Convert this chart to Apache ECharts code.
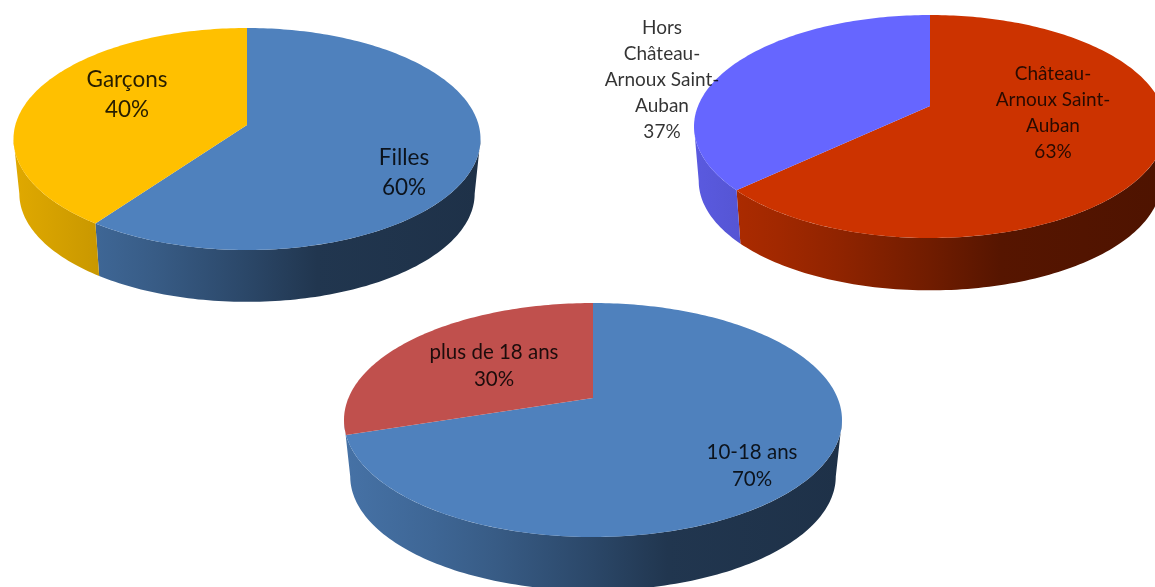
<!DOCTYPE html>
<html><head><meta charset="utf-8">
<style>html,body{margin:0;padding:0;background:#fff;overflow:hidden}#c{width:1155px;height:587px;filter:blur(0.5px)}</style>
<script src="https://cdn.jsdelivr.net/npm/echarts@6/dist/echarts.min.js"></script>
</head><body><div id="c"></div>
<script>
// Data
const genderLabels = ['Filles', 'Garçons'];
const genderValues = [60, 40];
const communeLabels = ['Château-\nArnoux Saint-\nAuban', 'Hors\nChâteau-\nArnoux Saint-\nAuban'];
const communeValues = [63, 37];
const ageLabels = ['10-18 ans', 'plus de 18 ans'];
const ageValues = [70, 30];

// Styling and layout
const shade = [[0, .88], [.18, .79], [.3, .71], [.5, .55], [.65, .42], [1, .38]];
const pies = [
  { labels: genderLabels, values: genderValues, colors: ['#4f81bd', '#ffc000'],
    cx: 247, apex: 125, top: 28, bottom: 250, half: 233.5, s: .975, depth: 55,
    font: 22.5, lh: 30, textColor: 'rgba(0,0,0,.85)', textPos: [[404, 173], [127, 95]] },
  { labels: communeLabels, values: communeValues, colors: ['#cc3300', '#6666ff'],
    cx: 930, apex: 106, top: 15, bottom: 238, half: 236, s: .98, depth: 55,
    font: 19, lh: 26, textColor: 'rgba(0,0,0,.8)', textPos: [[1053, 113], [662, 80]] },
  { labels: ageLabels, values: ageValues, colors: ['#4f81bd', '#c0504d'],
    cx: 593, apex: 398, top: 303, bottom: 537, half: 249, s: .975, depth: 57,
    font: 20.5, lh: 27, textColor: 'rgba(0,0,0,.85)', textPos: [[752, 466], [494, 366]] }
];
const minWallSpan = 0.15; // radians; shorter wall pieces merge into the neighbouring slice

function hex(c) { return [1, 3, 5].map(i => parseInt(c.substr(i, 2), 16)); }
function factorColor(c, f) { return 'rgb(' + hex(c).map(v => Math.round(v * f)).join(',') + ')'; }

function projector(p) {
  const up = p.apex - p.top, down = p.bottom - p.apex;
  const b = -(down - up) / (down + up);
  const a = up * (1 - b);
  const R = p.half * Math.sqrt(1 - b * b);
  const pt = (t, scale, dy) => {
    const X = Math.sin(t), Y = -Math.cos(t), w = 1 + b * Y;
    return [p.cx + scale * R * X / w, p.apex + scale * a * Y / w + dy];
  };
  return { pt, tR: Math.acos(b), tL: 2 * Math.PI - Math.acos(b) };
}

function arc(f, t0, t1, scale, dy) {
  const n = Math.max(2, Math.ceil(Math.abs(t1 - t0) / 0.02));
  const out = [];
  for (let i = 0; i <= n; i++) out.push(f(t0 + (t1 - t0) * i / n, scale, dy));
  return out;
}

function renderer(p) {
  const proj = projector(p);
  const total = p.values.reduce((x, y) => x + y, 0);
  const tAt = k => p.values.slice(0, k).reduce((x, y) => x + y, 0) / total * 2 * Math.PI;
  const span = k => Math.min(tAt(k + 1), proj.tL) - Math.max(tAt(k), proj.tR);
  return function (params, api) {
    const i = params.dataIndex;
    const t0 = tAt(i), t1 = t0 + api.value(0) / total * 2 * Math.PI;
    const color = p.colors[i];
    const children = [];
    const a0 = Math.max(t0, proj.tR);
    let a1 = Math.min(t1, proj.tL);
    const nextIsSliver = i + 1 < p.values.length && span(i + 1) > 0 && span(i + 1) < minWallSpan;
    if (nextIsSliver) a1 = proj.tL;
    if (a1 - a0 >= minWallSpan) {
      const pts = arc(proj.pt, a0, a1, 1, 0).concat(arc(proj.pt, a1, a0, p.s, p.depth));
      children.push({
        type: 'polygon', z2: 1, shape: { points: pts },
        style: { fill: {
          type: 'linear', global: true,
          x: p.cx - p.half, y: 0, x2: p.cx + p.half, y2: 0,
          colorStops: shade.map(([o, f]) => ({ offset: o, color: factorColor(color, f) }))
        } }
      });
    }
    const top = [[p.cx, p.apex]].concat(arc(proj.pt, t0, t1, 1, 0));
    children.push({ type: 'polygon', z2: 2, shape: { points: top }, style: { fill: color } });
    children.push({
      type: 'text', z2: 3, x: p.textPos[i][0], y: p.textPos[i][1],
      style: {
        text: p.labels[i] + '\n' + api.value(0) + '%',
        fontFamily: 'Lato, "Open Sans", sans-serif', fontSize: p.font, lineHeight: p.lh,
        fill: p.textColor, align: 'center', verticalAlign: 'middle'
      }
    });
    return { type: 'group', children };
  };
}

const chart = echarts.init(document.getElementById('c'), null, { renderer: 'canvas' });
chart.setOption({
  backgroundColor: '#fff',
  animation: false,
  series: pies.map(p => ({
    type: 'custom', coordinateSystem: 'none', silent: true,
    renderItem: renderer(p),
    data: p.values.map(v => [v])
  }))
});
</script></body></html>
